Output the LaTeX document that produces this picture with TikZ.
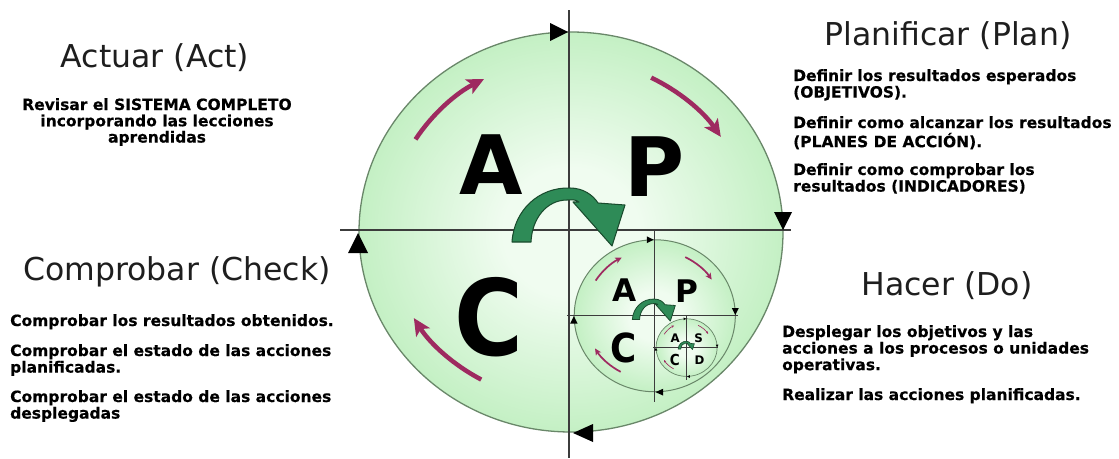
\documentclass[tikz,border=0pt]{standalone}
\usepackage{fontspec}
\setmainfont{DejaVu Sans}
\newfontfamily\bodyfont{DejaVu Sans}[BoldFeatures={FakeBold=0.4}]
\usetikzlibrary{arrows.meta}
\definecolor{glowin}{RGB}{240,252,240}
\definecolor{glowout}{RGB}{196,240,196}
\definecolor{rim}{RGB}{105,135,105}
\definecolor{axisgray}{RGB}{60,60,60}
\definecolor{purp}{RGB}{158,42,96}
\definecolor{arrowgreen}{RGB}{46,139,87}
\definecolor{arrowedge}{RGB}{25,75,45}
\definecolor{headtext}{RGB}{30,30,30}
\pgfdeclareradialshading{pdcaglow}{\pgfpoint{0bp}{0bp}}{color(0bp)=(glowin); color(8bp)=(glowin); color(25bp)=(glowout); color(50bp)=(glowout)}
\tikzset{
  heading/.style={font=\fontsize{31.5}{36}\selectfont, text=headtext, inner sep=0pt, anchor=base},
  body/.style={font=\bodyfont\fontsize{15.5}{16}\selectfont\bfseries, text=black, inner sep=0pt, anchor=base west},
  bigletter/.style={font=\fontsize{82}{82}\selectfont\bfseries, inner sep=0pt, text=black},
  rimline/.style={draw=rim},
  axisline/.style={draw=axisgray},
  blacktri/.style={fill=black},
  greenarrow/.style={fill=arrowgreen, draw=arrowedge, line join=round},
}
\newcommand\linesL[1]{\begin{tabular}[t]{@{}l@{}}#1\end{tabular}}
\newcommand\linesC[1]{\begin{tabular}[t]{@{}c@{}}#1\end{tabular}}
% #1 cx, #2 cy, #3 scale, #4 line width, #5 top-right letter, #6 name prefix
\newcommand\pdcaring[6]{%
\begin{scope}[shift={(#1,#2)}, scale=#3, transform shape]
  \path[shading=pdcaglow] (2,2) ellipse [x radius=212, y radius=200];
  \draw[rimline, line width=#4] (2,2) ellipse [x radius=212, y radius=200];
  \draw[axisline, line width=0.8*#4] (0,-220) -- (0,228);
  \draw[axisline, line width=0.8*#4] (-229,0) -- (222,0);
  \fill[blacktri] (-1,-198) -- (-19,-207) -- (-19,-189) -- cycle;
  \fill[blacktri] (214,0) -- (205,-18) -- (223,-18) -- cycle;
  \fill[blacktri] (4,203) -- (24,194) -- (24,212) -- cycle;
  \fill[blacktri] (-211,3) -- (-221,23) -- (-201,23) -- cycle;
  \draw[purp, line width=#3*4.5pt, -{Stealth[length=17pt,width=16pt,inset=4pt,scale=#3]}]
     (212:181 and 171) arc[start angle=212, end angle=242, x radius=181, y radius=171];
  \draw[purp, line width=#3*4.5pt, -{Stealth[length=17pt,width=16pt,inset=4pt,scale=#3]}]
     (297:181 and 171) arc[start angle=297, end angle=327, x radius=181, y radius=171];
  \draw[purp, line width=#3*4.5pt, -{Stealth[length=17pt,width=16pt,inset=4pt,scale=#3]}]
     (119:181 and 171) arc[start angle=119, end angle=149, x radius=181, y radius=171];
  \node[bigletter] (#6A) at (-78,-65) {A};
  \node[bigletter] (#6P) at (86,-63) {#5};
  \node[bigletter, font=\fontsize{94}{94}\selectfont\bfseries, yscale=1.12] (#6C) at (-80,87) {C};
  \filldraw[greenarrow, line width=0.8*#4] (-57,12) .. controls (-55,-20) and (-30,-43) .. (1,-42)
     .. controls (14,-42) and (24,-35) .. (29,-27) -- (56,-25) -- (43,16) -- (4,-28) -- (10,-28)
     .. controls (6,-31) and (3,-30) .. (-2,-30)
     .. controls (-22,-30) and (-37,-12) .. (-38,12) -- cycle;
\end{scope}}
\begin{document}
\begin{tikzpicture}[x=1pt,y=-1pt]
\useasboundingbox (0,0) rectangle (1119,458);
\fill[white] (0,0) rectangle (1119,458);
\pdcaring{569}{230}{1}{1.3pt}{P}{big}
\pdcaring{654}{315}{0.38}{1pt}{P}{mid}
\pdcaring{686.3}{347.3}{0.144}{0.7pt}{S}{tiny}
\node[bigletter, font=\fontsize{11.8}{12}\selectfont\bfseries] (tinyD) at (699.5,359.8) {D};
% headings
\node[heading] (acth) at (155,67) {Actuar (Act)};
\node[heading] (planh) at (948,45) {Planificar (Plan)};
\node[heading] (checkh) at (177,280) {Comprobar (Check)};
\node[heading] (doh) at (947,295) {Hacer (Do)};
% bodies
\node[body, anchor=base, font=\bodyfont\fontsize{15.5}{15}\selectfont\bfseries] (actb) at (157,110) {\linesC{Revisar el SISTEMA COMPLETO\\incorporando las lecciones\\aprendidas}};
\node[body] (planb1) at (793,81) {\linesL{Definir los resultados esperados\\(OBJETIVOS).}};
\node[body] (planb2) at (793,128) {\linesL{Definir como alcanzar los resultados\\(PLANES DE ACCIÓN).}};
\node[body] (planb3) at (793,175) {\linesL{Definir como comprobar los\\resultados (INDICADORES)}};
\node[body] (checkb1) at (10,326) {\linesL{Comprobar los resultados obtenidos.}};
\node[body] (checkb2) at (10,356) {\linesL{Comprobar el estado de las acciones\\planificadas.}};
\node[body] (checkb3) at (10,402) {\linesL{Comprobar el estado de las acciones\\desplegadas}};
\node[body] (dob1) at (782,337) {\linesL{Desplegar los objetivos y las\\acciones a los procesos o unidades\\operativas.}};
\node[body] (dob2) at (782,400) {\linesL{Realizar las acciones planificadas.}};
\end{tikzpicture}
\end{document}
